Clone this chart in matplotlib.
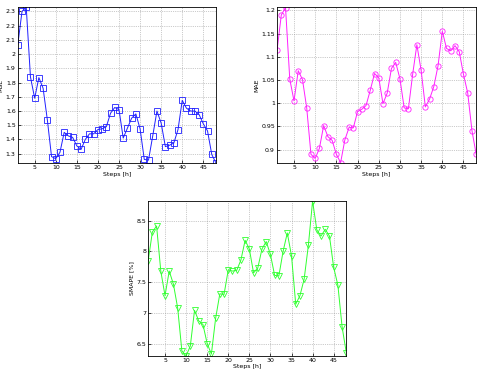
import numpy as np
import matplotlib.pyplot as plt
from matplotlib.ticker import FuncFormatter

steps = np.arange(1, 49)

mse = [2.066, 2.30, 2.33, 1.84, 1.69, 1.835, 1.76, 1.54, 1.28, 1.265,
       1.31, 1.45, 1.425, 1.415, 1.355, 1.33, 1.40, 1.44, 1.44, 1.47,
       1.475, 1.49, 1.585, 1.625, 1.61, 1.41, 1.48, 1.55, 1.58, 1.475,
       1.26, 1.255, 1.425, 1.60, 1.515, 1.35, 1.36, 1.375, 1.47, 1.675,
       1.62, 1.60, 1.60, 1.575, 1.51, 1.46, 1.295, 1.235]

mae = [1.114, 1.19, 1.206, 1.052, 1.005, 1.070, 1.051, 0.990, 0.890, 0.881,
       0.903, 0.952, 0.928, 0.920, 0.890, 0.872, 0.921, 0.948, 0.947, 0.982,
       0.987, 0.995, 1.028, 1.064, 1.055, 0.999, 1.022, 1.075, 1.088, 1.053,
       0.990, 0.988, 1.062, 1.126, 1.071, 0.992, 1.009, 1.036, 1.081, 1.155,
       1.118, 1.113, 1.124, 1.111, 1.062, 1.022, 0.941, 0.890]

smape = [7.844, 8.316, 8.413, 7.68, 7.28, 7.68, 7.465, 7.08, 6.38, 6.30,
         6.46, 7.04, 6.87, 6.81, 6.50, 6.33, 6.91, 7.31, 7.30, 7.70,
         7.68, 7.69, 7.86, 8.18, 8.04, 7.65, 7.73, 8.04, 8.16, 7.95,
         7.61, 7.60, 8.00, 8.30, 7.93, 7.14, 7.28, 7.55, 8.10, 8.82,
         8.35, 8.25, 8.36, 8.25, 7.74, 7.45, 6.77, 6.35]

fig = plt.figure(figsize=(4.81, 3.75), dpi=100)

panels = [
    ([0.037, 0.565, 0.412, 0.416], mse, 'MSE', '#2020ff', 's', np.arange(1.3, 2.31, 0.1), (1.234, 2.33)),
    ([0.576, 0.565, 0.414, 0.416], mae, 'MAE', '#ff20ff', 'o', np.arange(0.9, 1.21, 0.05), (0.871, 1.207)),
    ([0.308, 0.051, 0.412, 0.413], smape, 'SMAPE [%]', '#30ff30', 'v', np.arange(6.5, 8.51, 0.5), (6.30, 8.82)),
]

for rect, vals, lab, col, mk, yt, yl in panels:
    ax = fig.add_axes(rect)
    ax.plot(steps, vals, color=col, marker=mk, markersize=3.8, markerfacecolor='none',
            markeredgewidth=0.6, linewidth=0.7)
    ax.set_xlim(1, 48)
    ax.set_ylim(*yl)
    ax.set_xticks(np.arange(5, 46, 5))
    ax.set_yticks(yt)
    ax.yaxis.set_major_formatter(FuncFormatter(lambda v, p: '%g' % round(v, 3)))
    ax.grid(True, linestyle=':', color='#999999', linewidth=0.5)
    ax.tick_params(direction='in', labelsize=4.5, length=2, width=0.5, pad=1.5)
    for s in ax.spines.values():
        s.set_linewidth(0.6)
    ax.set_xlabel('Steps [h]', fontsize=4.5, labelpad=1)
    ax.set_ylabel(lab, fontsize=4.5, labelpad=1.5)

fig.savefig('out.png', dpi=100)
